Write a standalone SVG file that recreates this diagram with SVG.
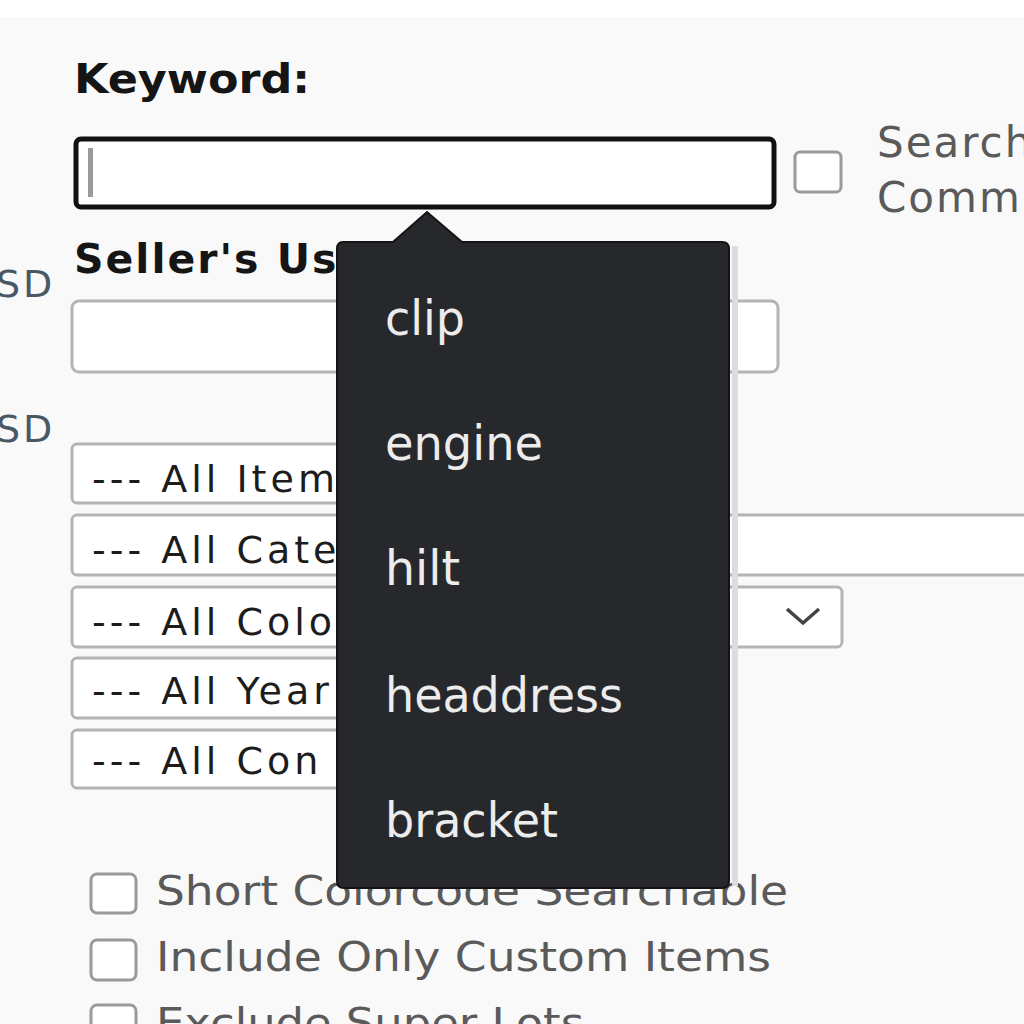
<svg xmlns="http://www.w3.org/2000/svg" width="1024" height="1024" viewBox="0 0 1024 1024">
<defs>
<style>
.bold{font-family:"DejaVu Sans","Verdana",sans-serif;font-weight:bold;fill:#151515;font-size:41px}
.opt{font-family:"DejaVu Sans","Verdana",sans-serif;fill:#1c1c1c;font-size:38px;letter-spacing:4px}
.lbl{font-family:"DejaVu Sans","Verdana",sans-serif;fill:#5a5a5a;font-size:40px}
.srch{font-family:"DejaVu Sans","Verdana",sans-serif;fill:#5a5a5a;font-size:42px;letter-spacing:2px}
.cur{font-family:"DejaVu Sans","Verdana",sans-serif;fill:#4a5866;font-size:38px;letter-spacing:3px}
.box{fill:#ffffff;stroke:#b4b4b4;stroke-width:3}
.chk{fill:#ffffff;stroke:#9a9a9a;stroke-width:3}
.tip{font-family:"DejaVu Sans","Verdana",sans-serif;fill:#ececec;font-size:48px}
</style>
<clipPath id="under-tip"><rect x="0" y="0" width="340" height="1024"/></clipPath>
</defs>
<rect x="0" y="0" width="1024" height="1024" fill="#f9f9f9"/>
<rect x="0" y="0" width="1024" height="17" fill="#ffffff"/>

<g id="keyword">
<text class="bold" x="74" y="93" textLength="236" lengthAdjust="spacingAndGlyphs">Keyword:</text>
<rect x="76" y="139" width="698" height="68" rx="5" fill="#ffffff" stroke="#111111" stroke-width="5"/>
<rect x="88" y="148" width="5" height="49" fill="#9a9a9a"/>
</g>

<g id="search-comments">
<rect x="795" y="152" width="46" height="40" rx="5" class="chk"/>
<text class="srch" x="877" y="157">Search</text>
<text class="srch" x="877" y="212">Comm</text>
</g>

<g id="currency">
<text class="cur" x="-4" y="297">SD</text>
<text class="cur" x="-4" y="442">SD</text>
</g>

<g id="seller">
<text class="bold" x="74" y="273" letter-spacing="2">Seller's Us</text>
<rect x="72" y="301" width="706" height="71" rx="7" class="box"/>
</g>

<g id="dropdowns">
<rect x="72" y="444" width="500" height="59" rx="5" class="box"/>
<rect x="72" y="515" width="980" height="60" rx="5" class="box"/>
<rect x="72" y="587" width="770" height="60" rx="5" class="box"/>
<polyline points="787,609 803,623 819,609" fill="none" stroke="#444444" stroke-width="3.5"/>
<rect x="72" y="658" width="500" height="60" rx="5" class="box"/>
<rect x="72" y="730" width="500" height="58" rx="5" class="box"/>
<g clip-path="url(#under-tip)">
<text class="opt" x="92" y="492">--- All Item</text>
<text class="opt" x="92" y="563">--- All Cate</text>
<text class="opt" x="92" y="635">--- All Colo</text>
<text class="opt" x="92" y="704">--- All Year</text>
<text class="opt" x="92" y="774">--- All Con</text>
</g>
</g>

<g id="options">
<rect x="91" y="874" width="45" height="39" rx="6" class="chk"/>
<text class="lbl" x="156" y="905" textLength="632" lengthAdjust="spacingAndGlyphs">Short Colorcode Searchable</text>
<rect x="91" y="940" width="45" height="40" rx="6" class="chk"/>
<text class="lbl" x="156" y="971" textLength="615" lengthAdjust="spacingAndGlyphs">Include Only Custom Items</text>
<rect x="91" y="1005" width="45" height="40" rx="6" class="chk"/>
<text class="lbl" x="156" y="1037" textLength="428" lengthAdjust="spacingAndGlyphs">Exclude Super Lots</text>
</g>

<g id="tooltip">
<rect x="732" y="246" width="6" height="640" fill="#dcdcdc"/>
<path d="M343,242 H393 L427,212 L462,242 H722 Q729,242 729,249 V881 Q729,888 722,888 H344 Q337,888 337,881 V249 Q337,242 343,242 Z" fill="#27282c" stroke="#141414" stroke-width="2"/>
<text class="tip" x="385" y="335" textLength="80" lengthAdjust="spacingAndGlyphs">clip</text>
<text class="tip" x="385" y="460" textLength="158" lengthAdjust="spacingAndGlyphs">engine</text>
<text class="tip" x="385" y="585" textLength="75" lengthAdjust="spacingAndGlyphs">hilt</text>
<text class="tip" x="385" y="712" textLength="238" lengthAdjust="spacingAndGlyphs">headdress</text>
<text class="tip" x="385" y="837" textLength="173" lengthAdjust="spacingAndGlyphs">bracket</text>
</g>
</svg>
